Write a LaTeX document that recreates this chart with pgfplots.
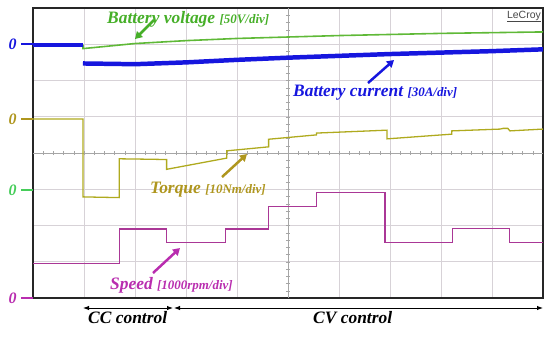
\documentclass[border=0pt]{standalone}
\usepackage{pgfplots}
\pgfplotsset{compat=1.18}
\usepackage{fontspec}
\setmainfont{Liberation Serif}
\newfontfamily\sansf{Liberation Sans}
\usetikzlibrary{arrows.meta}
\definecolor{curblue}{RGB}{22,22,222}
\definecolor{voltgreen}{RGB}{95,185,55}
\definecolor{voltgreentext}{RGB}{70,175,40}
\definecolor{torqline}{RGB}{175,170,30}
\definecolor{torqtext}{RGB}{175,150,30}
\definecolor{speedline}{RGB}{170,55,150}
\definecolor{speedtext}{RGB}{185,45,175}
\definecolor{zgreen}{RGB}{70,205,90}
\definecolor{gridc}{RGB}{215,210,215}
\newcommand{\lblbig}{\fontsize{17.5}{20}\selectfont\bfseries\itshape}
\newcommand{\lblsmall}{\fontsize{13}{15}\selectfont\bfseries\itshape}
\begin{document}
\begin{tikzpicture}[x=1bp,y=1bp]
\path (0,0) rectangle (550,338);
\begin{axis}[at={(33bp,40bp)}, anchor=south west, width=510bp, height=290bp,
  scale only axis, xmin=0, xmax=10, ymin=0, ymax=8,
  xtick={1,...,9}, ytick={1,...,7}, xticklabels={}, yticklabels={},
  tick style={draw=none}, grid=major,
  grid style={color=gridc, line width=0.6pt},
  axis line style={line width=1.2pt, black!85}, clip=true]
% crosshair with minor ticks
\draw[gray!70, line width=0.6pt] (axis cs:5,0) -- (axis cs:5,8);
\draw[gray!70, line width=0.6pt] (axis cs:0,4) -- (axis cs:10,4);
\pgfplotsinvokeforeach{1,...,49}{\draw[gray!70, line width=0.5pt] (axis cs:#1/5,4) ++(0pt,-2.2pt) -- ++(0pt,4.4pt);}
\pgfplotsinvokeforeach{1,...,39}{\draw[gray!70, line width=0.5pt] (axis cs:5,#1/5) ++(-2.2pt,0pt) -- ++(4.4pt,0pt);}
% battery voltage
\addplot[voltgreen, line width=1.6pt] coordinates {
(0,6.97)(0.98,6.97)(0.98,6.88)(2,7.02)(3,7.1)(4,7.16)(5,7.2)(6,7.24)(7,7.27)(8,7.3)(9,7.32)(10,7.34)};
% battery current
\addplot[curblue, line width=4pt] coordinates {(0,6.99)(0.98,6.99)};
\addplot[curblue, line width=4.5pt] coordinates {
(0.98,6.47)(1.5,6.46)(2,6.45)(3,6.5)(4,6.57)(5,6.63)(6,6.68)(7,6.73)(8,6.77)(9,6.81)(10,6.86)};
% torque
\addplot[torqline, line width=1.3pt] coordinates {
(0,4.94)(0.98,4.94)(0.98,2.79)(1.3,2.78)(1.69,2.77)(1.69,3.84)(2.2,3.83)(2.62,3.82)(2.62,3.55)(3.8,3.86)(3.8,4.06)(4.62,4.17)(4.62,4.38)
(5.56,4.5)(5.56,4.55)(6.94,4.63)(6.94,4.39)(8.21,4.52)(8.21,4.61)(9.16,4.66)(9.22,4.68)(9.31,4.68)(9.35,4.61)(10,4.66)};
% speed
\addplot[speedline, line width=1.3pt] coordinates {
(0,0.96)(1.69,0.96)(1.69,1.9)(2.62,1.9)(2.62,1.53)(3.78,1.53)(3.78,1.9)(4.62,1.9)(4.62,2.52)(5.56,2.52)(5.56,2.91)(6.9,2.91)(6.9,1.53)(8.23,1.53)(8.23,1.91)(9.34,1.91)(9.34,1.53)(10,1.53)};
\end{axis}
% zero markers
\node[text=curblue, font=\fontsize{16}{18}\selectfont\bfseries\itshape] at (12.5,294) {0};
\draw[curblue, line width=1.5pt] (21,294) -- (33,294);
\node[text=torqtext, font=\fontsize{16}{18}\selectfont\bfseries\itshape] at (12.5,219) {0};
\draw[torqtext, line width=1.5pt] (21,219) -- (33,219);
\node[text=zgreen, font=\fontsize{16}{18}\selectfont\bfseries\itshape] at (12.5,148) {0};
\draw[zgreen, line width=1.5pt] (21,148) -- (33,148);
\node[text=speedtext, font=\fontsize{16}{18}\selectfont\bfseries\itshape] at (12.5,40) {0};
\draw[speedtext, line width=1.5pt] (21,40) -- (33,40);
% LeCroy
\node[anchor=base east, text=black!72, font=\sansf\fontsize{10.5}{12}\selectfont, inner sep=0pt] at (541,320) {\underline{LeCroy}};
% labels
\node[anchor=base west, inner sep=0pt, text=voltgreentext] at (107,315) {\lblbig Battery voltage \lblsmall[50V/div]};
\draw[voltgreentext, line width=2.5pt, -{Triangle[length=7bp,width=8bp]}] (154,318) -- (135,299);
\node[anchor=base west, inner sep=0pt, text=curblue] at (293,242) {\lblbig Battery current \lblsmall[30A/div]};
\draw[curblue, line width=2.5pt, -{Triangle[length=7bp,width=8bp]}] (368,255) -- (394,278);
\node[anchor=base west, inner sep=0pt, text=torqtext] at (150,145) {\lblbig Torque \lblsmall[10Nm/div]};
\draw[torqtext, line width=2.5pt, -{Triangle[length=7bp,width=8bp]}] (222,161) -- (247,184);
\node[anchor=base west, inner sep=0pt, text=speedtext] at (110,49) {\lblbig Speed \lblsmall[1000rpm/div]};
\draw[speedtext, line width=2.5pt, -{Triangle[length=7bp,width=8bp]}] (153,65) -- (180,90);
% control arrows
\draw[line width=1pt, {Latex[length=6bp,width=4.5bp]}-{Latex[length=6bp,width=4.5bp]}] (83,30) -- (173,30);
\draw[line width=1pt, {Latex[length=6bp,width=4.5bp]}-{Latex[length=6bp,width=4.5bp]}] (174,30) -- (543,30);
\node[anchor=base west, inner sep=0pt, font=\fontsize{17.5}{20}\selectfont\bfseries\itshape] at (88,15) {CC control};
\node[anchor=base west, inner sep=0pt, font=\fontsize{17.5}{20}\selectfont\bfseries\itshape] at (313,15) {CV control};
\end{tikzpicture}
\end{document}
